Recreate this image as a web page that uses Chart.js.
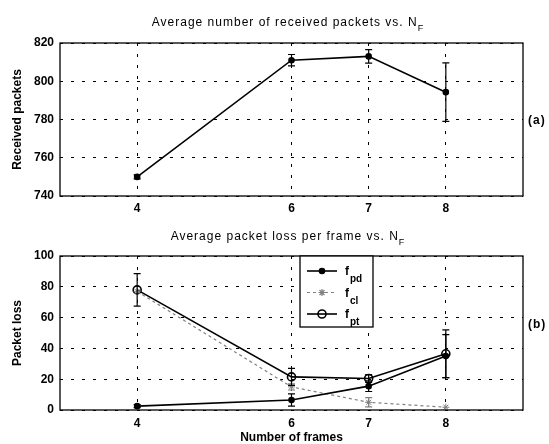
<!DOCTYPE html>
<html lang="en">
<head>
  <meta charset="UTF-8" />
  <title>Received packets and packet loss vs. N_F</title>
  <script src="https://cdn.jsdelivr.net/npm/chart.js"></script>
  <style>
    body {
      margin: 0;
      background: white;
      font-family: "Liberation Sans", Arial, sans-serif;
      color: black;
    }
    #page {
      position: relative;
      width: 549px;
      height: 444px;
      overflow: hidden;
    }
    .box {
      position: absolute;
      left: 0;
      width: 549px;
    }
    .title {
      position: absolute;
      left: 0;
      width: 576px;
      text-align: center;
      font-size: 12px;
      line-height: 14px;
      letter-spacing: 1px;
      white-space: nowrap;
    }
    .title span {
      font-size: 9px;
      position: relative;
      top: 5px;
    }
    .tag {
      position: absolute;
      left: 528px;
      font-size: 12px;
      font-weight: bold;
      line-height: 14px;
      letter-spacing: 1px;
    }
  </style>
</head>
<body>
  <div id="page">
    <div class="box" style="top:0; height:220px;"><canvas id="packetsChart" width="549" height="220"></canvas></div>
    <div class="box" style="top:215px; height:229px;"><canvas id="lossChart" width="549" height="229"></canvas></div>
    <div class="title" style="top:15px;">Average number of received packets vs. N<span>F</span></div>
    <div class="title" style="top:229px;">Average packet loss per frame vs. N<span>F</span></div>
    <div class="tag" style="top:113px;">(a)</div>
    <div class="tag" style="top:317px;">(b)</div>
  </div>

  <script>
    // values
    const frames = [4, 6, 7, 8];
    const frameRange = [3, 9];

    const receivedPackets = [750, 811, 813, 794.3];
    const receivedErr = [1, 3, 3.5, 15.3];
    const packetsRange = [740, 820];

    const lossPd = [2.5, 6.5, 15.5, 35];
    const lossPdErr = [1, 4, 3.5, 14];
    const lossCl = [77, 15, 5, 1.8];
    const lossClErr = [0, 2, 3, 0];
    const lossPt = [78, 21.5, 20.5, 36.5];
    const lossPtErr = [10.5, 5.5, 2.5, 15.5];
    const lossRange = [0, 100];

    const legendSubs = ["pd", "cl", "pt"];

    const FONT = "'Liberation Sans', Arial, sans-serif";

    const toPoints = (ys) => frames.map((x, i) => ({ x: x, y: ys[i] }));

    // full black frame round the plot area
    const frameBox = {
      id: "frameBox",
      afterDraw(chart) {
        const { ctx, chartArea: a } = chart;
        ctx.save();
        ctx.strokeStyle = "#000";
        ctx.lineWidth = 1.3;
        ctx.setLineDash([]);
        ctx.strokeRect(a.left, a.top, a.right - a.left, a.bottom - a.top);
        ctx.restore();
      }
    };

    // vertical error bars with caps, placed through the chart scales
    const errorBars = {
      id: "errorBars",
      afterDatasetsDraw(chart) {
        const { ctx, scales } = chart;
        chart.data.datasets.forEach(ds => {
          if (!ds.errors) return;
          ctx.save();
          ctx.strokeStyle = ds.borderColor;
          ctx.lineWidth = 1.2;
          ctx.setLineDash([]);
          ds.data.forEach((p, i) => {
            const e = ds.errors[i];
            if (!e) return;
            const x = scales.x.getPixelForValue(p.x);
            const yt = scales.y.getPixelForValue(p.y + e);
            const yb = scales.y.getPixelForValue(p.y - e);
            ctx.beginPath();
            ctx.moveTo(x, yt); ctx.lineTo(x, yb);
            ctx.moveTo(x - 3.5, yt); ctx.lineTo(x + 3.5, yt);
            ctx.moveTo(x - 3.5, yb); ctx.lineTo(x + 3.5, yb);
            ctx.stroke();
          });
          ctx.restore();
        });
      }
    };

    // boxed legend with subscripted labels (f_pd, f_cl, f_pt)
    const subLegend = {
      id: "subLegend",
      afterDraw(chart) {
        const ctx = chart.ctx;
        const x0 = 300, y0 = 41, w = 73, h = 71;
        ctx.save();
        ctx.fillStyle = "#fff";
        ctx.fillRect(x0, y0, w, h);
        ctx.strokeStyle = "#000";
        ctx.lineWidth = 1.3;
        ctx.strokeRect(x0, y0, w, h);
        chart.data.datasets.forEach((ds, i) => {
          const y = y0 + 15 + i * 21.5;
          ctx.save();
          ctx.strokeStyle = ds.borderColor;
          ctx.lineWidth = ds.borderWidth;
          ctx.setLineDash(ds.borderDash || []);
          ctx.beginPath();
          ctx.moveTo(x0 + 7, y);
          ctx.lineTo(x0 + 37, y);
          ctx.stroke();
          ctx.setLineDash([]);
          ctx.fillStyle = ds.pointBackgroundColor;
          Chart.helpers.drawPoint(ctx, {
            pointStyle: ds.pointStyle, radius: ds.pointRadius,
            borderWidth: ds.pointBorderWidth || 1, rotation: 0
          }, x0 + 22, y);
          if (ds.pointBackgroundColor !== "rgba(0,0,0,0)") ctx.fill();
          ctx.restore();
          ctx.fillStyle = "#000";
          ctx.textBaseline = "alphabetic";
          ctx.font = "bold 12px " + FONT;
          ctx.fillText("f", x0 + 45, y + 4);
          ctx.font = "bold 10px " + FONT;
          ctx.fillText(legendSubs[i], x0 + 50, y + 11);
        });
        ctx.restore();
      }
    };

    function baseOptions(range, step, yTitle, areaTop, xHeight, xTickPad, xTitle) {
      return {
        responsive: false,
        animation: false,
        devicePixelRatio: 1,
        layout: {
          autoPadding: false,
          padding: { left: 0, right: 26, top: areaTop, bottom: 0 }
        },
        plugins: { legend: { display: false }, title: { display: false }, tooltip: { enabled: false } },
        scales: {
          x: {
            type: "linear",
            min: frameRange[0],
            max: frameRange[1],
            afterBuildTicks: (scale) => { scale.ticks = frames.map(v => ({ value: v })); },
            afterFit: (scale) => { scale.height = xHeight; },
            grid: { color: "#000", lineWidth: 1, drawTicks: false },
            border: { display: false, dash: [3, 8] },
            ticks: { color: "#000", padding: xTickPad, font: { family: FONT, size: 12, weight: "bold" } },
            title: xTitle ? {
              display: true, text: xTitle, color: "#000",
              padding: { top: 0, bottom: 0 },
              font: { family: FONT, size: 12, weight: "bold", lineHeight: 1 }
            } : { display: false }
          },
          y: {
            min: range[0],
            max: range[1],
            afterFit: (scale) => { scale.width = 60; },
            grid: { color: "#000", lineWidth: 1, drawTicks: false },
            border: { display: false, dash: [3, 8] },
            ticks: { stepSize: step, color: "#000", padding: 6, font: { family: FONT, size: 12, weight: "bold" } },
            title: {
              display: true, text: yTitle, color: "#000",
              padding: { top: 10, bottom: 0 },
              font: { family: FONT, size: 12, weight: "bold" }
            }
          }
        }
      };
    }

    const packetsCanvas = document.getElementById("packetsChart");
    packetsCanvas.getContext("2d").letterSpacing = "1px";
    const packetsChart = new Chart(packetsCanvas, {
      type: "line",
      data: {
        datasets: [{
          label: "Received packets",
          data: toPoints(receivedPackets),
          errors: receivedErr,
          borderColor: "#000",
          borderWidth: 1.6,
          pointStyle: "circle",
          pointRadius: 2.5,
          pointBackgroundColor: "#000",
          pointBorderColor: "#000",
          tension: 0
        }]
      },
      options: baseOptions(packetsRange, 20, "Received packets", 43, 24, 5, null),
      plugins: [errorBars, frameBox]
    });

    const lossCanvas = document.getElementById("lossChart");
    lossCanvas.getContext("2d").letterSpacing = "1px";
    const lossChart = new Chart(lossCanvas, {
      type: "line",
      data: {
        datasets: [
          {
            label: "f_pd",
            data: toPoints(lossPd),
            errors: lossPdErr,
            borderColor: "#000",
            borderWidth: 1.6,
            pointStyle: "circle",
            pointRadius: 2.5,
            pointBackgroundColor: "#000",
            pointBorderColor: "#000",
            tension: 0
          },
          {
            label: "f_cl",
            data: toPoints(lossCl),
            errors: lossClErr,
            borderColor: "#808080",
            borderWidth: 1.2,
            borderDash: [3, 3],
            pointStyle: "star",
            pointRadius: 3.5,
            pointBorderWidth: 1,
            pointBackgroundColor: "rgba(0,0,0,0)",
            pointBorderColor: "#808080",
            tension: 0
          },
          {
            label: "f_pt",
            data: toPoints(lossPt),
            errors: lossPtErr,
            borderColor: "#000",
            borderWidth: 1.6,
            pointStyle: "circle",
            pointRadius: 4,
            pointBorderWidth: 1.6,
            pointBackgroundColor: "rgba(0,0,0,0)",
            pointBorderColor: "#000",
            tension: 0
          }
        ]
      },
      options: baseOptions(lossRange, 20, "Packet loss", 41, 34, 6, "Number of frames"),
      plugins: [errorBars, frameBox, subLegend]
    });
  </script>
</body>
</html>
